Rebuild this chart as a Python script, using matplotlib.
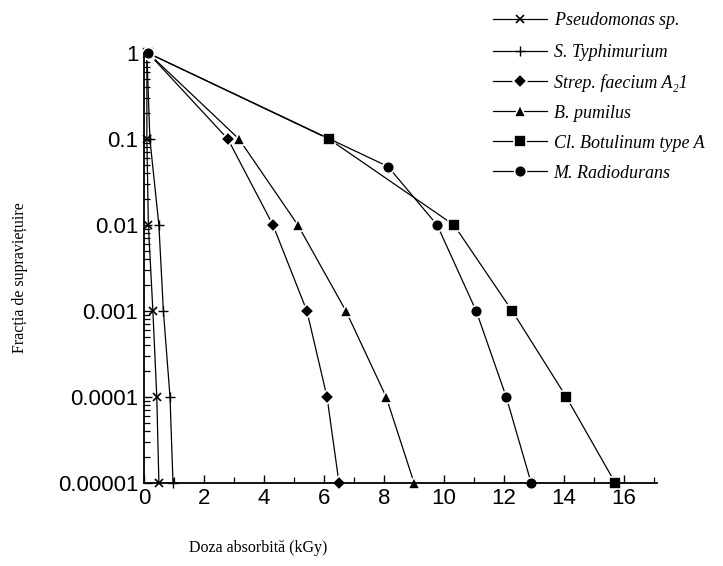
import numpy as np
import matplotlib
matplotlib.use('Agg')
import matplotlib.pyplot as plt
from matplotlib.ticker import FixedLocator, LogLocator, NullFormatter

# survival fraction levels (y) shared by all curves
surv = [1, 0.1, 0.01, 0.001, 0.0001, 0.00001]

# dose (kGy) for each organism
pseudo_x = [0.1, 0.1, 0.15, 0.3, 0.43, 0.5]
typhi_x = [0.1, 0.2, 0.5, 0.65, 0.87, 0.97]
strep_x = [0.15, 2.8, 4.3, 5.43, 6.1, 6.5]
pumilus_x = [0.15, 3.17, 5.13, 6.73, 8.07, 9.0]
botul_x = [0.15, 6.17, 10.33, 12.27, 14.07, 15.7]
radio_x = [0.15, 8.13, 9.77, 11.07, 12.07, 12.9]
radio_y = [1, 0.048, 0.01, 0.001, 0.0001, 0.00001]

labels = [r"$\mathit{Pseudomonas}$ sp.",
          "S. Typhimurium",
          "Strep. faecium A\u20821",
          "B. pumilus",
          "Cl. Botulinum type A",
          "M. Radiodurans"]

xticks = [0, 2, 4, 6, 8, 10, 12, 14, 16]
yticks = [1, 0.1, 0.01, 0.001, 0.0001, 0.00001]
ytick_labels = ["1", "0.1", "0.01", "0.001", "0.0001", "0.00001"]

plt.rcParams['mathtext.fontset'] = 'custom'
plt.rcParams['mathtext.it'] = 'Liberation Serif:italic'
plt.rcParams['mathtext.rm'] = 'Liberation Serif'

fig = plt.figure(figsize=(7.23, 5.66), dpi=100)
ax = fig.add_axes([0.199, 0.147, 0.71, 0.759])

series = [
    (pseudo_x, surv, 'x', 6, 1.2),
    (typhi_x, surv, '+', 7, 1.0),
    (strep_x, surv, 'D', 7.5, 0),
    (pumilus_x, surv, '^', 9, 0),
    (botul_x, surv, 's', 8, 0),
    (radio_x, radio_y, 'o', 8.5, 0),
]

for (xs, ys, mk, ms, mew), lab in zip(series, labels):
    if mew:
        ax.plot(xs, ys, color='black', lw=0.9, marker=mk, ms=ms, mew=mew,
                label=lab, clip_on=False)
    else:
        ax.plot(xs, ys, color='black', lw=0.9, marker=mk, ms=ms,
                mfc='black', mec='white', mew=1.2, label=lab, clip_on=False)

ax.set_yscale('log')
ax.set_ylim(0.00001, 1)
ax.set_xlim(0, 17.1)

ax.spines['top'].set_visible(False)
ax.spines['right'].set_visible(False)
ax.spines['left'].set_linewidth(1.3)
ax.spines['bottom'].set_linewidth(1.3)

ax.xaxis.set_major_locator(FixedLocator(xticks))
ax.xaxis.set_minor_locator(FixedLocator([1, 3, 5, 7, 9, 11, 13, 15, 17]))
ax.set_xticklabels([str(t) for t in xticks])
ax.yaxis.set_major_locator(FixedLocator(yticks))
ax.set_yticklabels(ytick_labels)
ax.yaxis.set_minor_locator(LogLocator(base=10, subs=np.arange(2, 10)))
ax.yaxis.set_minor_formatter(NullFormatter())

ax.tick_params(axis='both', which='major', direction='in', length=6, width=1.0,
               labelsize=16, pad=4)
ax.tick_params(axis='both', which='minor', direction='in', length=4, width=0.9)
for t in ax.get_xticklabels() + ax.get_yticklabels():
    t.set_family('Liberation Sans')

fig.text(0.028, 0.51, "Fracția de supraviețuire", rotation=90, ha='center',
         va='center', family='Liberation Serif', fontsize=11.5)
fig.text(0.357, 0.032, "Doza absorbită (kGy)", ha='center', va='center',
         family='Liberation Serif', fontsize=11.5)

leg = fig.legend(loc='upper left', bbox_to_anchor=(0.662, 1.008), frameon=False,
                 handlelength=3.0, handletextpad=0.35, labelspacing=0.72,
                 borderpad=0.3,
                 prop={'family': 'Liberation Serif', 'style': 'italic', 'size': 13})

fig.savefig("out.png", dpi=100)
